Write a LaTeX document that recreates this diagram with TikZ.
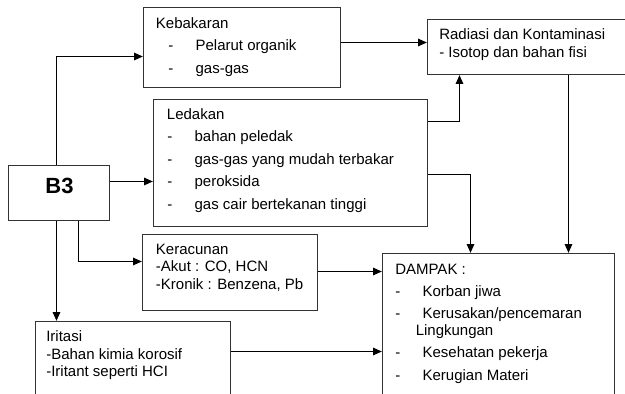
\documentclass[tikz,border=0pt]{standalone}
\usepackage{fontspec}
\setmainfont{Liberation Sans}
\usetikzlibrary{arrows.meta,fit}

\newcommand{\itm}[1]{\makebox[20.5pt][l]{-}#1}

\tikzset{
	kotak/.style={draw=black!80, line width=0.9pt, inner sep=0pt},
	panah/.style={line width=1.1pt, -{Triangle[length=6.5pt,width=5.5pt]}},
	teks/.style={anchor=base west, inner sep=0pt, font=\fontsize{11.25}{13.5}\selectfont}
}

\begin{document}
\begin{tikzpicture}[x=0.75pt, y=-0.75pt]
	
		\clip (0,0) rectangle (625,393);
		
		% kotak-kotak
		\node[kotak, fit={(8.5,165.5) (109.5,220.5)}] (b3) {};
		\node[kotak, fit={(143.5,7.5) (340.5,87.5)}] (kebakaran) {};
		\node[kotak, fit={(153.5,99.5) (427.5,226.5)}] (ledakan) {};
		\node[kotak, fit={(427.5,19.5) (640,74.5)}] (radiasi) {};
		\node[kotak, fit={(142.5,234.5) (317.5,310.5)}] (keracunan) {};
		\node[kotak, fit={(35.5,321.5) (230.5,410)}] (iritasi) {};
		\node[kotak, fit={(382.5,253.5) (614.5,410)}] (dampak) {};
		
		% isi kotak
		\node[anchor=base, inner sep=0pt, font=\bfseries\fontsize{16.5}{19}\selectfont] (b3t) at (59.5,193.5) {B3};
		
		\node[teks] (keb0) at (155.7,28) {Kebakaran};
		\node[teks] (keb1) at (168,50.5) {\itm{Pelarut organik}};
		\node[teks] (keb2) at (168,73) {\itm{gas-gas}};
		
		\node[teks] (led0) at (166.7,119.3) {Ledakan};
		\node[teks] (led1) at (167,141) {\itm{bahan peledak}};
		\node[teks] (led2) at (167,164.3) {\itm{gas-gas yang mudah terbakar}};
		\node[teks] (led3) at (167,186) {\itm{peroksida}};
		\node[teks] (led4) at (167,209.5) {\itm{gas cair bertekanan tinggi}};
		
		\node[teks] (rad0) at (439,39.3) {Radiasi dan Kontaminasi};
		\node[teks] (rad1) at (439,57.3) {- Isotop dan bahan fisi};
		
		\node[teks] (ker0) at (155.7,254.3) {Keracunan};
		\node[teks] (ker1) at (155.7,271.7) {-Akut : CO, HCN};
		\node[teks] (ker2) at (155.7,289.3) {-Kronik : Benzena, Pb};
		
		\node[teks] (iri0) at (46,341.7) {Iritasi};
		\node[teks] (iri1) at (46,359.3) {-Bahan kimia korosif};
		\node[teks] (iri2) at (46,376.7) {-Iritant seperti HCI};
		
		\node[teks] (dam0) at (395,274) {DAMPAK :};
		\node[teks] (dam1) at (395,296) {\itm{Korban jiwa}};
		\node[teks] (dam2) at (395,318.3) {\itm{Kerusakan/pencemaran}};
		\node[teks] (dam3) at (415.5,335) {Lingkungan};
		\node[teks] (dam4) at (395,357.7) {\itm{Kesehatan pekerja}};
		\node[teks] (dam5) at (395,380) {\itm{Kerugian Materi}};
		
		% titik belok
		\coordinate (tkeb) at (56.5,56.5);
		\coordinate (tled) at (0,181.5);
		\coordinate (trad) at (0,42.5);
		\coordinate (tlr) at (459.5,121.5);
		\coordinate (tld) at (470.5,174.5);
		\coordinate (trd) at (568.5,0);
		\coordinate (tker) at (78.5,261.5);
		\coordinate (tiri) at (56.5,0);
		\coordinate (tkd) at (0,271.5);
		\coordinate (tid) at (0,351.5);
		
		% panah
		\draw[panah] (b3.north -| tkeb) -- (tkeb) -- (kebakaran.west |- tkeb);
		\draw[panah] (b3.east |- tled) -- (ledakan.west |- tled);
		\draw[panah] (kebakaran.east |- trad) -- (radiasi.west |- trad);
		\draw[panah] (ledakan.east |- tlr) -- (tlr) -- (radiasi.south -| tlr);
		\draw[panah] (ledakan.east |- tld) -- (tld) -- (dampak.north -| tld);
		\draw[panah] (radiasi.south -| trd) -- (dampak.north -| trd);
		\draw[panah] (b3.south -| tker) -- (tker) -- (keracunan.west |- tker);
		\draw[panah] (b3.south -| tiri) -- (iritasi.north -| tiri);
		\draw[panah] (keracunan.east |- tkd) -- (dampak.west |- tkd);
		\draw[panah] (iritasi.east |- tid) -- (dampak.west |- tid);
		
	\end{tikzpicture}
\end{document}
